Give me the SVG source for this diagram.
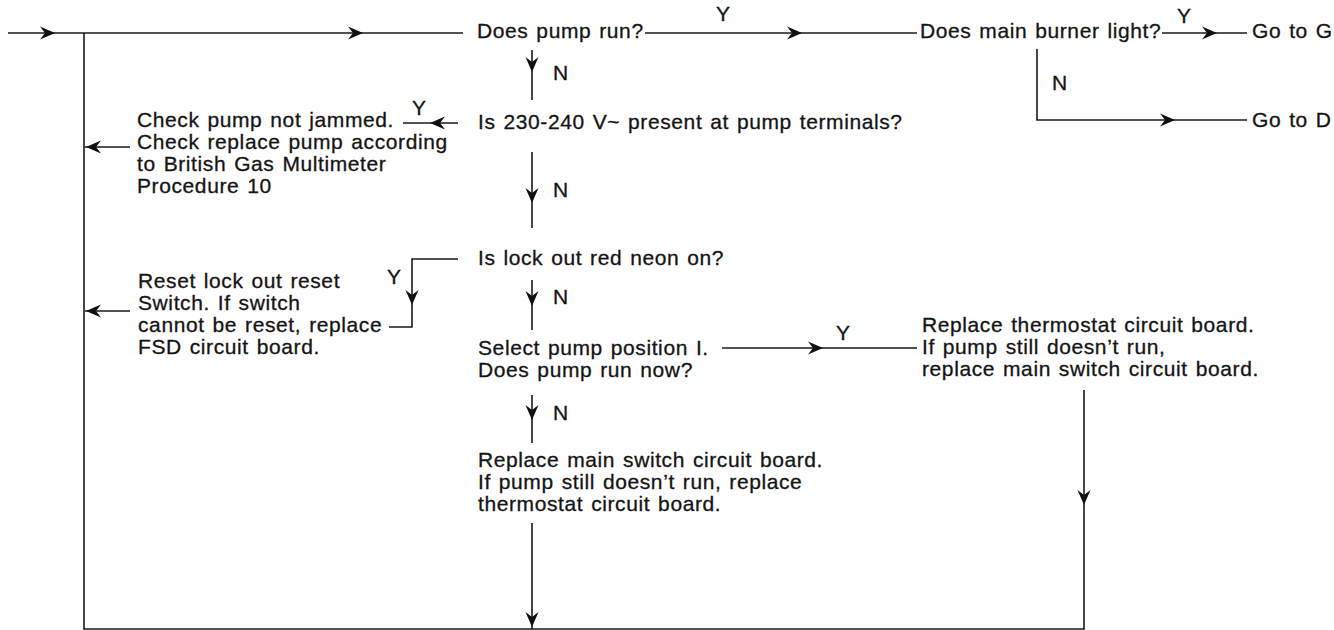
<svg xmlns="http://www.w3.org/2000/svg" xmlns:xlink="http://www.w3.org/1999/xlink" width="1334" height="630" viewBox="0 0 1334 630">
<style>
  text { font-family: "Liberation Sans", Arial, Helvetica, sans-serif; font-size: 21px; fill: #141414; stroke: #141414; stroke-width: 0.3px; letter-spacing: 0.6px; word-spacing: 1.5px; }
  .ln { fill: none; stroke: #1a1a1a; stroke-width: 1.6; }
  .ah { fill: #111; }
</style>
<defs>
  <path id="ah" d="M0,0 L-15,-6.5 L-10,0 L-15,6.5 Z"/>
</defs>
<rect width="1334" height="630" fill="#ffffff"/>

<g id="connectors">
  <path class="ln" d="M8,33 H463"/>
  <path class="ln" d="M84,33 V629 H1084 V390"/>
  <path class="ln" d="M645,33 H917"/>
  <path class="ln" d="M1162,33 H1247"/>
  <path class="ln" d="M1037,49 V120 H1247"/>
  <path class="ln" d="M532,50 V100"/>
  <path class="ln" d="M458,123 H403"/>
  <path class="ln" d="M130,147 H85"/>
  <path class="ln" d="M532,152 V228"/>
  <path class="ln" d="M458,259 H412 V327 H389"/>
  <path class="ln" d="M130,311 H85"/>
  <path class="ln" d="M532,280 V330"/>
  <path class="ln" d="M722,348 H917"/>
  <path class="ln" d="M532,395 V443"/>
  <path class="ln" d="M532,523 V629"/>
  <g class="ah">
    <use xlink:href="#ah" transform="translate(55,33)"/>
    <use xlink:href="#ah" transform="translate(363,33)"/>
    <use xlink:href="#ah" transform="translate(802,33)"/>
    <use xlink:href="#ah" transform="translate(1217,33)"/>
    <use xlink:href="#ah" transform="translate(1175,120)"/>
    <use xlink:href="#ah" transform="translate(532,72) rotate(90)"/>
    <use xlink:href="#ah" transform="translate(430,123) rotate(180)"/>
    <use xlink:href="#ah" transform="translate(86,147) rotate(180)"/>
    <use xlink:href="#ah" transform="translate(532,203) rotate(90)"/>
    <use xlink:href="#ah" transform="translate(86,311) rotate(180)"/>
    <use xlink:href="#ah" transform="translate(412,305) rotate(90)"/>
    <use xlink:href="#ah" transform="translate(532,306) rotate(90)"/>
    <use xlink:href="#ah" transform="translate(823,348)"/>
    <use xlink:href="#ah" transform="translate(532,420) rotate(90)"/>
    <use xlink:href="#ah" transform="translate(532,627) rotate(90)"/>
    <use xlink:href="#ah" transform="translate(1084,505) rotate(90)"/>
  </g>
  <g id="labels">
    <text x="716" y="21">Y</text>
    <text x="1177" y="23">Y</text>
    <text x="1052" y="90">N</text>
    <text x="553" y="80">N</text>
    <text x="412" y="115">Y</text>
    <text x="553" y="197">N</text>
    <text x="387" y="284">Y</text>
    <text x="553" y="304">N</text>
    <text x="836" y="340">Y</text>
    <text x="553" y="420">N</text>
  </g>
</g>

<g id="q-pump-run"><text x="477" y="38">Does pump run?</text></g>
<g id="q-burner"><text x="920" y="38">Does main burner light?</text></g>
<g id="go-g"><text x="1252" y="38">Go to G</text></g>
<g id="go-d"><text x="1252" y="127">Go to D</text></g>
<g id="q-voltage"><text x="478" y="129">Is 230-240 V~ present at pump terminals?</text></g>
<g id="a-check-pump">
  <text x="137" y="127">Check pump not jammed.</text>
  <text x="137" y="149">Check replace pump according</text>
  <text x="137" y="171">to British Gas Multimeter</text>
  <text x="137" y="193">Procedure 10</text>
</g>
<g id="q-lockout"><text x="478" y="265">Is lock out red neon on?</text></g>
<g id="a-reset">
  <text x="138" y="288">Reset lock out reset</text>
  <text x="138" y="310">Switch. If switch</text>
  <text x="138" y="332">cannot be reset, replace</text>
  <text x="138" y="354">FSD circuit board.</text>
</g>
<g id="q-select-pump">
  <text x="478" y="355">Select pump position I.</text>
  <text x="478" y="377">Does pump run now?</text>
</g>
<g id="a-thermostat">
  <text x="922" y="332">Replace thermostat circuit board.</text>
  <text x="922" y="354">If pump still doesn’t run,</text>
  <text x="922" y="376">replace main switch circuit board.</text>
</g>
<g id="a-main-switch">
  <text x="478" y="467">Replace main switch circuit board.</text>
  <text x="478" y="489">If pump still doesn’t run, replace</text>
  <text x="478" y="511">thermostat circuit board.</text>
</g>
</svg>
